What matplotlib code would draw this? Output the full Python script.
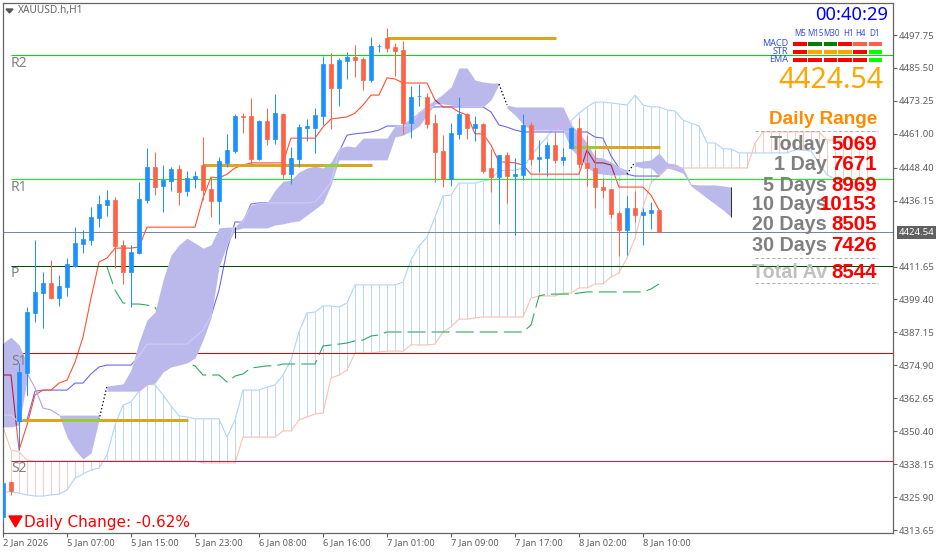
import numpy as np
import matplotlib
matplotlib.use("Agg")
import matplotlib.pyplot as plt
from matplotlib.patches import Rectangle, Polygon

nan = float("nan")
plt.rcParams["lines.scale_dashes"] = False

# ── Candles ────────────────────────────────────────────────
opens = [4318.5, 4331.5, 4354.2, 4372.1, 4394.4, 4401.8, 4405.5, 4399.9, 4404.0, 4411.9,
         4420.0, 4421.5, 4429.7, 4434.5, 4436.4, 4419.7, 4409.6, 4416.7, 4436.4, 4448.7,
         4441.6, 4443.4, 4447.9, 4439.7, 4444.2, 4449.4, 4440.5, 4436.0, 4450.2, 4454.6,
         4467.6, 4467.6, 4451.6, 4465.8, 4459.1, 4468.4, 4446.0, 4451.6, 4463.2, 4463.2,
         4467.6, 4487.0, 4478.0, 4488.1, 4489.6, 4488.8, 4481.0, 4493.7, 4496.6, 4493.3,
         4492.2, 4465.0, 4475.0, 4474.7, 4465.0, 4454.6, 4444.2, 4461.0, 4468.4, 4463.2,
         4464.6, 4448.3, 4444.9, 4453.1, 4445.3, 4445.7, 4464.3, 4451.6, 4452.0, 4456.8,
         4451.3, 4455.7, 4463.2, 4450.2, 4448.3, 4441.2, 4440.5, 4431.5, 4425.2, 4433.4,
         4430.8, 4431.5, 4432.7]
highs = [4331.5, 4331.9, 4375.8, 4396.6, 4421.5, 4409.6, 4414.1, 4408.5, 4414.8, 4426.3,
         4425.2, 4433.8, 4438.2, 4440.1, 4437.5, 4421.5, 4419.7, 4443.1, 4455.7, 4454.2,
         4449.4, 4448.7, 4449.4, 4447.2, 4447.2, 4459.8, 4444.9, 4452.4, 4461.0, 4468.4,
         4468.7, 4474.3, 4466.1, 4470.6, 4475.8, 4468.7, 4456.1, 4464.6, 4466.5, 4470.6,
         4490.0, 4491.1, 4489.2, 4491.4, 4494.0, 4489.6, 4497.0, 4494.4, 4500.4, 4494.8,
         4495.5, 4478.8, 4479.5, 4476.2, 4468.4, 4460.5, 4465.0, 4474.7, 4468.7, 4467.6,
         4465.0, 4455.4, 4453.1, 4454.2, 4452.0, 4468.4, 4465.4, 4458.7, 4458.0, 4461.7,
         4455.7, 4463.5, 4466.9, 4460.5, 4455.0, 4444.6, 4440.5, 4432.3, 4437.9, 4439.7,
         4433.4, 4435.6, 4432.7]
lows = [4317.0, 4326.6, 4343.4, 4363.9, 4391.0, 4388.8, 4399.6, 4397.0, 4400.7, 4411.5,
        4416.7, 4419.7, 4426.3, 4430.4, 4411.1, 4405.2, 4396.6, 4416.3, 4435.3, 4438.2,
        4431.9, 4439.7, 4434.5, 4437.9, 4440.8, 4436.4, 4430.1, 4427.5, 4448.7, 4453.9,
        4461.3, 4449.8, 4451.3, 4456.8, 4457.2, 4444.6, 4442.3, 4448.7, 4458.3, 4453.9,
        4464.3, 4462.8, 4471.3, 4481.4, 4482.1, 4477.3, 4480.3, 4491.4, 4491.4, 4482.5,
        4461.0, 4459.4, 4471.3, 4463.2, 4443.1, 4441.2, 4441.6, 4459.1, 4459.1, 4458.3,
        4446.4, 4439.3, 4427.5, 4435.3, 4423.4, 4443.8, 4449.4, 4446.8, 4445.3, 4450.2,
        4449.4, 4455.5, 4448.3, 4441.6, 4433.4, 4437.1, 4429.7, 4415.6, 4416.0, 4428.2,
        4419.7, 4425.6, 4424.5]
closes = [4331.1, 4328.1, 4372.4, 4394.7, 4402.2, 4405.5, 4399.9, 4404.4, 4412.6, 4420.4,
          4421.9, 4430.1, 4434.9, 4436.4, 4419.3, 4409.6, 4417.1, 4436.8, 4448.7, 4441.2,
          4443.8, 4447.9, 4439.3, 4444.6, 4445.3, 4440.1, 4436.0, 4450.9, 4455.0, 4467.6,
          4467.3, 4451.6, 4465.8, 4459.1, 4468.7, 4446.0, 4452.0, 4463.5, 4463.9, 4468.0,
          4487.0, 4478.0, 4488.5, 4489.6, 4488.5, 4481.0, 4493.7, 4493.8, 4492.9, 4491.8,
          4465.0, 4474.7, 4475.1, 4464.6, 4454.2, 4444.2, 4461.3, 4468.4, 4463.2, 4464.6,
          4447.2, 4444.9, 4453.1, 4445.3, 4446.0, 4464.3, 4451.6, 4452.4, 4456.8, 4451.3,
          4452.4, 4463.2, 4449.8, 4448.3, 4441.2, 4440.1, 4431.2, 4425.2, 4433.4, 4430.8,
          4431.9, 4432.7, 4424.54]

# ── Ichimoku lines ─────────────────────────────────────────
tenkan = [4371.3, 4371.3, 4343.4, 4352.7, 4363.9, 4365.7, 4365.7, 4368.3, 4369.4, 4376.1,
          4385.4, 4399.9, 4413.3, 4414.8, 4418.5, 4418.5, 4418.5, 4418.9, 4426.3, 4426.3,
          4426.3, 4426.3, 4426.3, 4426.3, 4426.3, 4437.1, 4444.9, 4444.6, 4446.0, 4448.3,
          4449.4, 4450.2, 4450.2, 4450.2, 4450.2, 4450.2, 4459.4, 4459.4, 4459.4, 4459.4,
          4463.5, 4466.5, 4466.9, 4467.3, 4468.7, 4471.7, 4475.4, 4475.4, 4481.8, 4481.4,
          4479.9, 4479.9, 4479.9, 4479.9, 4473.6, 4471.0, 4471.0, 4469.1, 4468.0, 4461.0,
          4461.0, 4456.8, 4450.5, 4450.5, 4450.2, 4449.4, 4446.0, 4446.0, 4446.0, 4446.0,
          4446.0, 4446.0, 4446.0, 4455.0, 4450.2, 4450.2, 4449.4, 4441.2, 4441.2, 4441.2,
          4441.2, 4438.2, 4432.7]
kijun = [4356.4, 4356.4, 4353.8, 4354.6, 4365.3, 4365.7, 4365.7, 4365.7, 4365.7, 4368.3,
         4368.3, 4371.7, 4374.3, 4375.0, 4375.0, 4375.0, 4375.0, 4378.4, 4382.8, 4382.8,
         4382.8, 4382.8, 4382.8, 4382.8, 4385.4, 4388.0, 4393.2, 4402.9, 4417.8, 4428.2,
         4428.2, 4434.9, 4435.3, 4435.3, 4435.3, 4435.3, 4435.3, 4435.3, 4435.3, 4435.6,
         4439.0, 4443.1, 4454.2, 4460.5, 4461.0, 4461.3, 4461.7, 4462.4, 4463.9, 4463.9,
         4463.9, 4464.3, 4468.7, 4470.6, 4471.0, 4471.0, 4471.0, 4471.0, 4471.0, 4471.0,
         4471.0, 4469.1, 4464.3, 4463.5, 4462.4, 4461.7, 4461.7, 4461.7, 4461.7, 4461.7,
         4461.7, 4461.7, 4461.7, 4461.7, 4459.8, 4459.4, 4452.8, 4448.3, 4446.0, 4445.3,
         4445.3, 4445.3, 4445.3]
span_blue = [4327.8, 4327.8, 4327.4, 4326.7, 4326.3, 4326.3, 4326.7, 4327.0, 4328.5, 4333.0,
             4334.5, 4336.0, 4336.7, 4341.5, 4352.7, 4360.1, 4361.3, 4365.3, 4368.0, 4367.6,
             4363.9, 4359.8, 4356.1, 4355.7, 4355.0, 4355.0, 4355.0, 4355.0, 4348.2, 4354.6,
             4365.7, 4365.7, 4365.7, 4366.8, 4367.6, 4371.3, 4376.9, 4387.3, 4394.4, 4394.7,
             4397.0, 4397.0, 4396.6, 4398.1, 4404.8, 4404.8, 4404.8, 4404.8, 4404.8, 4404.8,
             4405.9, 4414.1, 4419.3, 4422.6, 4430.1, 4437.9, 4438.2, 4442.7, 4442.7, 4442.7,
             4443.4, 4444.2, 4447.2, 4447.5, 4447.5, 4448.3, 4452.8, 4456.5, 4459.8, 4463.9,
             4464.6, 4465.8, 4468.7, 4471.0, 4472.8, 4472.8, 4472.5, 4472.1, 4471.7, 4475.4,
             4471.7, 4471.0, 4471.0, 4469.9, 4469.5, 4466.1, 4465.0, 4463.9, 4457.6, 4457.6,
             4455.4, 4455.4, 4453.9, 4453.9, 4453.9, 4453.9, 4453.9, 4453.9, 4453.9, 4455.0,
             4455.0, 4454.6, 4450.2, 4445.7, 4444.2, 4442.7, 4441.6, 4440.5, 4439.4]
span_peach = [4352.0, 4343.4, 4342.7, 4339.7, 4339.3, 4339.3, 4339.3, 4339.3, 4339.3, 4339.3,
              4339.3, 4339.3, 4339.3, 4339.3, 4339.3, 4339.3, 4339.3, 4339.3, 4339.3, 4339.3,
              4339.3, 4339.3, 4339.3, 4339.3, 4339.3, 4338.6, 4338.6, 4338.6, 4338.6, 4338.6,
              4348.2, 4348.2, 4348.2, 4348.2, 4348.2, 4350.5, 4350.5, 4354.6, 4355.7, 4356.8,
              4357.2, 4370.2, 4371.3, 4373.2, 4379.5, 4379.5, 4379.5, 4379.9, 4380.2, 4380.2,
              4380.2, 4382.5, 4382.5, 4382.5, 4382.8, 4387.3, 4389.2, 4392.1, 4392.1, 4392.5,
              4392.9, 4392.9, 4392.9, 4392.9, 4392.9, 4392.9, 4399.9, 4400.7, 4400.7, 4400.7,
              4401.8, 4401.8, 4403.7, 4403.7, 4405.2, 4405.2, 4407.8, 4409.3, 4414.8, 4422.2,
              4433.8, 4442.7, 4445.7, 4448.3, 4448.3, 4448.3, 4448.3, 4448.3, 4448.3, 4448.3,
              4448.3, 4448.3, 4448.3, 4448.3, 4457.6, 4461.7, 4461.7, 4461.7, 4461.7, 4461.7,
              4461.7, 4461.7, 4461.7, 4458.7, 4458.7, 4458.7, 4458.7, 4458.7, 4458.7]
# chikou starts on bar 13
chikou = [4411.5, 4402.9, 4398.1, 4397.7, 4397.7, 4397.3, 4396.6, 4391.0, 4383.2, 4381.7,
          4375.8, 4374.7, 4371.3, 4371.3, 4371.3, 4368.7, 4370.9, 4371.7, 4373.9, 4374.3,
          4374.7, 4374.7, 4375.4, 4375.4, 4375.4, 4375.4, 4375.4, 4382.1, 4382.5, 4382.8,
          4383.2, 4384.0, 4384.3, 4385.8, 4386.2, 4387.3, 4387.3, 4387.3, 4387.3, 4387.3,
          4387.3, 4387.3, 4387.3, 4387.3, 4387.3, 4387.3, 4387.3, 4387.3, 4387.3, 4387.3,
          4387.3, 4387.3, 4387.3, 4389.9, 4400.7, 4401.4, 4401.4, 4401.4, 4401.4, 4401.8,
          4402.2, 4402.2, 4402.2, 4402.2, 4402.2, 4402.2, 4402.2, 4402.2, 4403.3, 4405.2]
cloud_top = [4383.2, 4385.4, 4382.5, 4376.1, nan, nan, nan, 4356.4, 4356.4, 4356.4,
             4356.4, 4356.4, 4356.4, 4367.2, 4367.6, 4368.0, 4373.2, 4383.6, 4391.8, 4394.7,
             4406.6, 4415.9, 4419.7, 4422.2, 4420.4, 4418.5, 4419.7, 4426.0, 4426.3, 4426.3,
             4429.7, 4434.5, 4435.3, 4435.3, 4440.1, 4443.4, 4443.8, 4446.8, 4448.3, 4449.0,
             4448.3, 4450.5, 4455.7, 4456.5, 4456.1, 4459.4, 4459.4, 4459.4, 4459.4, 4463.9,
             4464.6, 4466.9, 4469.1, 4471.7, 4473.6, 4475.8, 4478.4, 4485.5, 4485.5, 4481.0,
             4480.3, 4479.9, 4479.9, 4471.7, 4471.0, 4471.0, 4471.0, 4471.0, 4471.0, 4471.0,
             4471.0, 4464.6, 4461.3, 4457.6, 4452.4, 4452.0, 4450.5, 4448.7, 4447.5, 4450.5,
             4450.9, 4451.3, 4453.9, 4450.2, 4449.8, 4448.3, 4442.3, 4442.0, 4442.0, 4442.0,
             4441.6, 4441.2]
cloud_bot = [4352.0, 4352.0, 4352.7, 4369.4, nan, nan, nan, 4356.4, 4348.2, 4343.4,
             4340.1, 4342.3, 4354.6, 4365.3, 4365.3, 4365.3, 4365.3, 4365.3, 4367.6, 4368.3,
             4372.4, 4374.3, 4375.0, 4375.8, 4377.6, 4384.3, 4392.5, 4411.5, 4419.7, 4425.2,
             4426.0, 4426.0, 4426.0, 4426.0, 4427.1, 4427.5, 4428.2, 4428.6, 4430.8, 4433.0,
             4435.3, 4442.0, 4451.3, 4451.3, 4451.3, 4451.3, 4451.3, 4451.3, 4451.3, 4459.8,
             4460.5, 4462.0, 4463.9, 4468.0, 4472.1, 4472.1, 4471.7, 4471.3, 4471.0, 4471.0,
             4471.0, 4473.6, 4479.5, 4470.6, 4468.0, 4464.6, 4462.4, 4462.4, 4462.4, 4462.4,
             4462.4, 4455.4, 4452.4, 4448.7, 4446.4, 4446.0, 4445.7, 4445.7, 4446.0, 4449.0,
             4448.3, 4448.3, 4445.3, 4448.3, 4447.5, 4446.4, 4441.6, 4439.4, 4437.1, 4434.9,
             4432.7, 4430.1]
cloud_edge = [4372.1, 4366.5, 4359.0, 4358.3, 4356.4]  # bars 3-7
cloud_pieces = [(0, 4), (7, 13), (13, 63), (63, 79), (79, 92)]

# ── Levels ─────────────────────────────────────────────────
pivot_names = ["R2", "R1", "P", "S1", "S2"]
pivot_prices = [4490.3, 4444.2, 4412.0, 4379.5, 4339.5]
pivot_colors = ["#00dd00", "#00ff00", "#004d00", "#e00000", "#dc143c"]
last_price = 4424.54

range_prices = [4496.6, 4449.4, 4354.6, 4456.1]
range_start = [48, 25, 2.4, 71]
range_end = [69.1, 46.1, 23.1, 82.1]
cross_start = [nan, 40, 7.4, 71]
cross_end = [nan, 42.1, 12.1, 74.4]

# ── Axis labels ────────────────────────────────────────────
price_ticks = [4497.75, 4485.50, 4473.25, 4461.00, 4448.40, 4436.15, 4411.65,
               4399.40, 4387.15, 4374.90, 4362.65, 4350.40, 4338.15, 4325.90, 4313.65]
time_ticks = [0, 8, 16, 24, 32, 40, 48, 56, 64, 72, 80]
time_labels = ["2 Jan 2026", "5 Jan 07:00", "5 Jan 15:00", "5 Jan 23:00", "6 Jan 08:00",
               "6 Jan 16:00", "7 Jan 01:00", "7 Jan 09:00", "7 Jan 17:00", "8 Jan 02:00",
               "8 Jan 10:00"]

# ── Dashboard ──────────────────────────────────────────────
timeframes = ["M5", "M15", "M30", "H1", "H4", "D1"]
signal_names = ["MACD", "STR", "EMA"]
signal_colors = [["#ff0000", "#008000", "#008000", "#ff0000", "#ff6347", "#ff6347"],
                 ["#ff0000", "#ffa500", "#ffa500", "#ffa500", "#ff0000", "#00ff00"],
                 ["#ff0000", "#ff0000", "#ff0000", "#ff0000", "#ff0000", "#00ff00"]]
range_names = ["Today", "1 Day", "5 Days", "10 Days", "20 Days", "30 Days", "Total Av"]
range_values = ["5069", "7671", "8969", "10153", "8505", "7426", "8544"]

W, H = 939, 554
fig = plt.figure(figsize=(W / 100, H / 100), dpi=100, facecolor="white")
left, right, top, bottom = 2.5, 893, 2.5, 533
ax = fig.add_axes([left / W, 1 - bottom / H, (right - left) / W, (bottom - top) / H])
ax.set_xlim(-0.0625, 111.25)
ax.set_ylim(4312.55, 4509.84)


def fx(x):
    return x / W


def fy(y):
    return 1 - y / H


bars = np.arange(len(opens))
o, h, l, c = map(np.array, (opens, highs, lows, closes))
top_arr, bot_arr = np.array(cloud_top), np.array(cloud_bot)
span_x = np.arange(len(span_blue))
sb, sp = np.array(span_blue), np.array(span_peach)
ken, ten = np.array(kijun), np.array(tenkan)
thin = 0.72

# hatching between the two spans
up = sb >= sp
ax.vlines(span_x[up], sp[up], sb[up], color="#b8d9f8", lw=thin, zorder=1)
ax.vlines(span_x[~up], sb[~up], sp[~up], color="#f6cdbc", lw=thin, zorder=1)

# cloud, with the lines recoloured where they cross it
ax.plot(span_x, sb, color="#b0d4f6", lw=0.8, zorder=2)
ax.plot(span_x, sp, color="#f6c4b0", lw=0.8, zorder=2)
ax.plot(bars, ken, color="#6f68f0", lw=0.8, zorder=2)
ax.plot(bars, ten, color="#ff5030", lw=0.8, zorder=2)
ax.plot(np.arange(13, 13 + len(chikou)), chikou, color="#2eaa5e", lw=0.8, zorder=2,
        dashes=(13, 4.3))

for a, b in cloud_pieces:
    poly = ax.fill_between(np.arange(a, b), bot_arr[a:b], top_arr[a:b], color="#bbb9ec",
                           lw=0, zorder=3)
    path = poly.get_paths()[0]
    for xs, ys, col in [(bars, ten, "#a8204c"), (bars, ken, "#cfcbf4"),
                        (span_x, sb, "#e6a8e6"), (span_x, sp, "#e6c0e0")]:
        line, = ax.plot(xs, ys, color=col, lw=0.8, zorder=3.5)
        line.set_clip_path(path, transform=ax.transData)

ax.plot(np.arange(3, 8), cloud_edge, color="#aaa6ee", lw=0.8, zorder=3.5)
for b in [13, 63, 79]:
    ax.plot([b - 1, b], [bot_arr[b - 1], top_arr[b]], color="black", lw=0.9, zorder=3.5,
            dashes=(1, 1.6))
ax.vlines([0, 3, 29, 91], [4352.0, 4363.9, 4422.2, 4430.1], [4383.2, 4372.1, 4426.3, 4441.2],
          color="#303030", lw=thin, zorder=3.6)

# price levels
ax.axhline(last_price, color="#778899", lw=thin, zorder=2.5, snap=True)
for price, col in zip(pivot_prices, pivot_colors):
    ax.plot([1, 111.25], [price, price], color=col, lw=0.75, zorder=2.5, snap=True,
            solid_capstyle="butt")
ax.hlines(range_prices, range_start, range_end, color="#daa520", lw=2.16, zorder=3.7)
ax.hlines(range_prices, cross_start, cross_end, color="#9acd32", lw=2.16, zorder=3.8)

# candles
colors = np.where(c >= o, "#1e90ff", "#ff6347")
ax.vlines(bars, l, h, colors=colors, lw=thin, zorder=4)
ax.bar(bars, np.abs(c - o), bottom=np.minimum(o, c), width=0.56, color=colors,
       edgecolor=colors, lw=0.5, zorder=5)

# axes
for side in ax.spines.values():
    side.set_color("#666666")
    side.set_linewidth(0.9)
ax.yaxis.tick_right()
ax.set_yticks(price_ticks)
ax.set_yticklabels([f"{p:.2f}" for p in price_ticks])
ax.set_xticks(time_ticks)
ax.set_xticklabels(time_labels, ha="left")
ax.tick_params(axis="y", length=3, width=0.8, color="#666666", labelcolor="#606060",
               labelsize=6.9, pad=1.2, labelfontfamily="Noto Sans")
ax.tick_params(axis="x", length=3, width=0.8, color="#666666", labelcolor="#606060",
               labelsize=6.7, pad=1, labelfontfamily="Noto Sans")
for label in ax.get_xticklabels():
    label.set_ha("left")

fig.text(fx(934.5), fy(232.7), f"{last_price:.2f}", color="white", fontsize=6.9,
         family="Noto Sans", ha="right", va="center",
         bbox=dict(facecolor="#606060", edgecolor="none", pad=1.4))

# chart title and pivot names
fig.add_artist(Polygon([[fx(6), fy(9)], [fx(13), fy(9)], [fx(9.5), fy(13)]],
                       closed=True, color="#555555", transform=fig.transFigure))
fig.text(fx(18), fy(11), "XAUUSD.h,H1", color="#666666", fontsize=7.3, family="Noto Sans",
         va="center")
for name, p in zip(pivot_names, pivot_prices):
    ax.annotate(name, xy=(1, p), xytext=(0, -6), textcoords="offset points", ha="left",
                va="center", color="#808080", fontsize=10, family="Noto Sans", zorder=6)

# clock and signal table
fig.text(fx(888), fy(15), "00:40:29", color="#0000ff", fontsize=13.2, family="Noto Sans",
         ha="right", va="center")
cols_left = [793, 808, 824, 838, 853, 869]
cols_right = [807, 822, 837, 852, 867, 882]
rows_y = [42, 50, 58]
for name, cx in zip(timeframes, [800, 815, 831, 849, 861, 875]):
    fig.text(fx(cx), fy(33), name, color="#3355cc", fontsize=5.8, family="Noto Sans",
             ha="center", va="center")
for name, ry, row in zip(signal_names, rows_y, signal_colors):
    fig.text(fx(788), fy(ry + 1.5), name, color="#3355cc", fontsize=6.5, family="Noto Sans",
             ha="right", va="center")
    for x0, x1, col in zip(cols_left, cols_right, row):
        fig.add_artist(Rectangle((fx(x0), fy(ry + 4)), (x1 - x0) / W, 4 / H, color=col, lw=0,
                                 transform=fig.transFigure))

fig.text(fx(883), fy(80), f"{last_price:.2f}", color="#ffa500", fontsize=20.4,
         family="Noto Sans", ha="right", va="center")
fig.text(fx(877), fy(120), "Daily Range", color="#ff8c00", fontsize=13.6, weight="bold",
         family="Liberation Sans", ha="right", va="center")

# daily range table
rows_label_y = [145, 165, 185, 205, 225, 245, 272]
for name, value, ry in zip(range_names, range_values, rows_label_y):
    col = "#c0c0c0" if name == "Total Av" else "#808080"
    fig.text(fx(827), fy(ry), name, color=col, fontsize=14.2, weight="bold",
             family="Liberation Sans", ha="right", va="center")
    fig.text(fx(877), fy(ry), value, color="#ff0000", fontsize=14.8, weight="bold",
             family="Liberation Sans", ha="right", va="center")
for ry in [131, 258, 283]:
    fig.add_artist(plt.Line2D([fx(755), fx(878)], [fy(ry), fy(ry)], color="#b0b0b0", lw=0.7,
                              dashes=(2.5, 1.5), transform=fig.transFigure))

# daily change
fig.add_artist(Polygon([[fx(9), fy(516)], [fx(22), fy(516)], [fx(15.5), fy(527)]],
                       closed=True, color="#ff0000", transform=fig.transFigure))
fig.text(fx(24), fy(522.5), "Daily Change: -0.62%", color="#ff0000", fontsize=11,
         family="DejaVu Sans", va="center")

fig.savefig("out.png", dpi=100)
print("Saved: out.png")
